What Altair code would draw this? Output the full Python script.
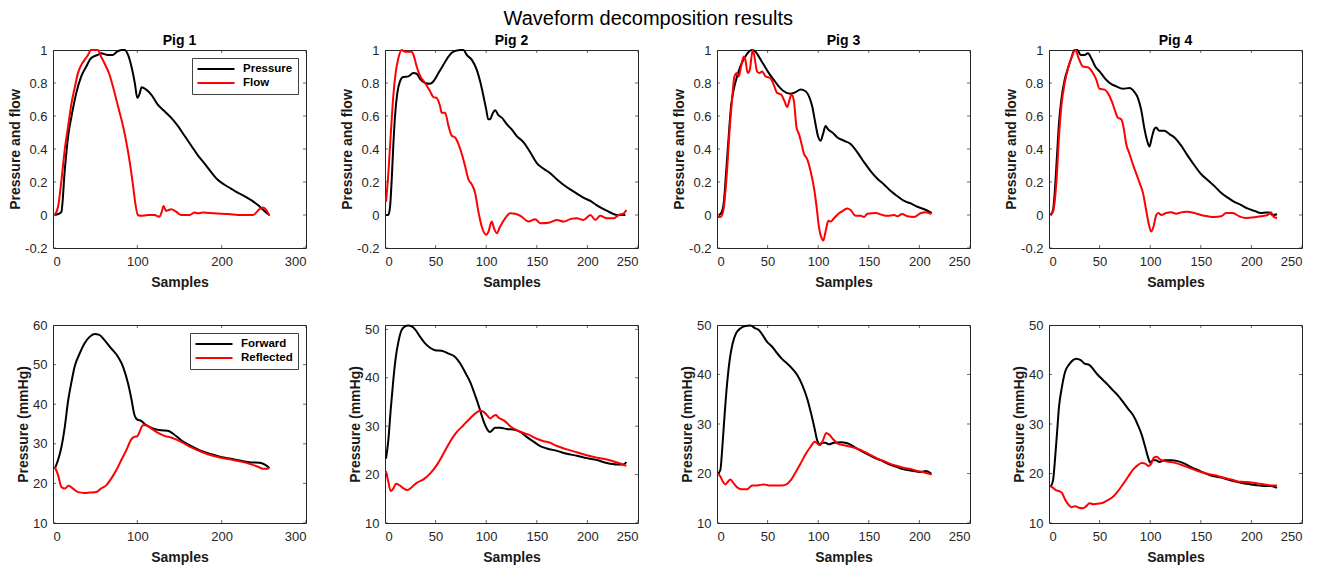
import altair as alt
import pandas as pd

# ---------------- data ----------------
TOP_NAMES = ["Pressure", "Flow"]
BOTTOM_NAMES = ["Forward", "Reflected"]
PIG_TITLES = ["Pig 1", "Pig 2", "Pig 3", "Pig 4"]

X_DOMAINS = [[0, 300], [0, 250], [0, 250], [0, 250]]
X_TICKS = [[0, 100, 200, 300], [0, 50, 100, 150, 200, 250],
           [0, 50, 100, 150, 200, 250], [0, 50, 100, 150, 200, 250]]
TOP_Y_DOMAIN = [-0.2, 1]
TOP_Y_TICKS = [-0.2, 0, 0.2, 0.4, 0.6, 0.8, 1]
BOTTOM_Y_DOMAINS = [[10, 60], [10, 50.9], [10, 50], [10, 50]]
BOTTOM_Y_TICKS = [[10, 20, 30, 40, 50, 60], [10, 20, 30, 40, 50],
                  [10, 20, 30, 40, 50], [10, 20, 30, 40, 50]]

# Pig 1 (top): normalised pressure and flow
p1_pressure_x = [2, 8, 10, 14, 18, 22, 27.6, 33.5, 39.5, 45,
                 53, 57, 65, 71, 76, 81, 85, 89, 93, 97,
                 100, 103, 105, 110.5, 116.5, 124, 132, 140, 148, 156,
                 164, 172, 180, 187.5, 195, 203, 211, 219, 227, 235,
                 243, 250.6, 256.6]
p1_pressure_y = [0, 0.01, 0.02, 0.275, 0.48, 0.6, 0.74, 0.84, 0.90, 0.95,
                 0.97, 0.98, 0.97, 0.97, 0.99, 1.0, 1.0, 0.97, 0.90, 0.80,
                 0.71, 0.74, 0.775, 0.76, 0.73, 0.67, 0.63, 0.59, 0.54, 0.48,
                 0.42, 0.36, 0.31, 0.26, 0.215, 0.185, 0.16, 0.135, 0.115, 0.09,
                 0.06, 0.025, 0.0]
p1_flow_x = [2, 6, 10, 14, 18, 22, 25.7, 29.6, 33.6, 37.5,
             41.5, 45, 49, 53, 57, 61, 67, 71, 77, 83,
             87, 91, 95, 97.5, 100.7, 104.6, 112.5, 120.4, 126, 129,
             131, 134, 137, 140, 146, 152, 162, 168, 172, 177.6,
             191.5, 211, 219, 237, 245, 249, 253, 256.6]
p1_flow_y = [0, 0.05, 0.21, 0.40, 0.54, 0.68, 0.77, 0.86, 0.91, 0.94,
             0.97, 1.0, 1.0, 1.0, 0.96, 0.92, 0.85, 0.78, 0.66, 0.54,
             0.44, 0.32, 0.175, 0.075, 0.0, -0.005, 0.0, 0.0, -0.01, 0.02,
             0.055, 0.025, 0.03, 0.035, 0.02, 0.0, 0.0, 0.015, 0.01, 0.015,
             0.01, 0.005, 0.0, 0.0, 0.035, 0.045, 0.03, -0.005]

# Pig 2 (top)
p2_pressure_x = [1, 3.3, 5, 6.6, 8.2, 9.9, 12.2, 14.8, 18, 23,
                 28, 31.3, 34.6, 39.6, 44.5, 47.8, 52.8, 57.7, 62.7, 67.6,
                 74.2, 77.5, 80.8, 85.8, 90.7, 94, 97.3, 100, 102, 104,
                 106, 108.8, 112, 115.4, 120.4, 125, 130, 137, 143.5, 150,
                 156.7, 163, 170, 176, 183, 189.6, 196, 203, 209, 216,
                 222.6, 229, 237.5]
p2_pressure_y = [0, 0, 0.05, 0.21, 0.42, 0.60, 0.74, 0.81, 0.836, 0.84,
                 0.86, 0.856, 0.825, 0.80, 0.795, 0.81, 0.86, 0.91, 0.96, 0.99,
                 1.0, 1.0, 0.97, 0.94, 0.88, 0.81, 0.72, 0.64, 0.58, 0.58,
                 0.61, 0.635, 0.605, 0.59, 0.55, 0.52, 0.48, 0.44, 0.38, 0.315,
                 0.28, 0.255, 0.215, 0.185, 0.155, 0.13, 0.105, 0.085, 0.06, 0.035,
                 0.015, 0.0, 0.0]
p2_flow_x = [1, 3.3, 5.6, 8.2, 10.5, 13.2, 16.5, 19.8, 23, 26.4,
             28.7, 31.3, 34.6, 39.6, 44.5, 47.8, 51, 54.4, 56, 59.4,
             62.7, 66, 69.3, 72.6, 75.9, 79, 82.5, 85.8, 89, 92.3,
             95.6, 100, 102, 105.5, 108, 110.5, 113.8, 118.7, 123.7, 128.6,
             135, 141.8, 148.4, 153.4, 163, 170, 176.4, 183, 189.6, 196,
             203, 207.8, 212.7, 219.3, 226, 231, 236, 238.5]
p2_flow_y = [0.08, 0.25, 0.48, 0.72, 0.86, 0.95, 1.0, 0.99, 0.99, 0.99,
             0.96, 0.90, 0.845, 0.80, 0.75, 0.715, 0.71, 0.66, 0.62, 0.62,
             0.54, 0.48, 0.47, 0.43, 0.37, 0.30, 0.215, 0.185, 0.135, 0.02,
             -0.07, -0.12, -0.105, -0.04, -0.085, -0.11, -0.07, -0.02, 0.01, 0.008,
             -0.01, -0.04, -0.025, -0.05, -0.045, -0.03, -0.04, -0.025, -0.02, -0.03,
             0.0, -0.03, -0.005, -0.02, -0.02, 0.0, 0.01, 0.03]

# Pig 3 (top)
p3_pressure_x = [1.7, 4, 6.6, 9.2, 11.6, 13.9, 16.5, 19.8, 23, 27,
                 31.4, 34.7, 38, 41.3, 46.2, 51.2, 56, 61, 66, 72.7,
                 77.6, 82.6, 87.5, 90.8, 94, 97.4, 99.7, 102.4, 104.7, 107.3,
                 109.6, 114, 119, 125.5, 132, 138.7, 145.3, 152, 158.5, 165,
                 171.7, 178, 185, 191.5, 198, 204.8, 209.7, 212]
p3_pressure_y = [0, 0.01, 0.07, 0.275, 0.48, 0.66, 0.76, 0.84, 0.90, 0.95,
                 0.99, 1.0, 0.99, 0.96, 0.91, 0.86, 0.82, 0.78, 0.75, 0.735,
                 0.745, 0.76, 0.75, 0.72, 0.66, 0.55, 0.48, 0.45, 0.49, 0.54,
                 0.52, 0.50, 0.47, 0.45, 0.43, 0.38, 0.32, 0.265, 0.22, 0.185,
                 0.145, 0.115, 0.085, 0.07, 0.05, 0.035, 0.02, 0.012]
p3_flow_x = [1, 4, 6.6, 10, 12.5, 14.9, 17.2, 19.8, 21.5, 23.8,
             26.4, 28, 30.4, 32.4, 35.3, 37, 39.6, 42, 44.6, 48,
             52.8, 56, 59.4, 63.4, 66.7, 69.4, 71.7, 73.6, 76, 78.6,
             81, 83.2, 86, 89, 92.5, 95.8, 98.4, 100.7, 103.4, 105,
             107.3, 110, 112.3, 115.6, 120.5, 125.5, 128.8, 132, 137, 142,
             145.3, 148.6, 157, 163.5, 168.4, 175, 178.3, 183, 188, 194.8,
             201.5, 206.4, 212]
p3_flow_y = [-0.012, -0.01, 0.04, 0.275, 0.52, 0.70, 0.84, 0.86, 0.84, 0.90,
             0.96, 0.94, 0.86, 0.88, 1.0, 0.96, 0.87, 0.86, 0.87, 0.84,
             0.83, 0.79, 0.74, 0.73, 0.69, 0.655, 0.70, 0.73, 0.69, 0.53,
             0.49, 0.44, 0.37, 0.34, 0.265, 0.165, 0.05, -0.07, -0.14, -0.155,
             -0.10, -0.035, -0.04, -0.02, 0.01, 0.03, 0.04, 0.03, -0.005, -0.005,
             -0.012, 0.008, 0.012, 0.0, -0.005, 0.0, -0.008, 0.006, -0.008, -0.012,
             0.012, 0.016, 0.006]

# Pig 4 (top)
p4_pressure_x = [1.6, 4, 5.6, 7.9, 9.9, 12.2, 15.5, 18.8, 22, 25.3,
                 28, 31.3, 35.2, 38.5, 41.8, 45.7, 50, 55, 60, 66.4,
                 73, 79.6, 84.5, 87.8, 91, 94.4, 97, 99.3, 101.6, 104,
                 105.9, 109, 114, 119, 124, 130.6, 137, 143.8, 150, 157,
                 163.5, 170, 176.6, 183, 190, 196, 203, 209.5, 214.5, 217.8,
                 221, 225.3]
p4_pressure_y = [0, 0.03, 0.13, 0.36, 0.56, 0.70, 0.82, 0.89, 0.95, 1.0,
                 1.0, 0.97, 0.97, 0.98, 0.95, 0.90, 0.87, 0.83, 0.80, 0.78,
                 0.765, 0.77, 0.745, 0.71, 0.64, 0.52, 0.45, 0.415, 0.47, 0.52,
                 0.53, 0.51, 0.51, 0.49, 0.47, 0.42, 0.36, 0.30, 0.25, 0.21,
                 0.175, 0.135, 0.105, 0.08, 0.06, 0.04, 0.025, 0.012, 0.015, 0.015,
                 0.0, 0.005]
p4_flow_x = [1.6, 4, 5.6, 7.9, 9.9, 12.2, 15.5, 18.8, 22, 26,
             29.3, 33.5, 38.5, 43.4, 46.7, 50, 55, 58, 62, 64.8,
             68, 71.4, 74, 76.3, 79.6, 83, 86, 89.5, 92.8, 96,
             98.4, 101, 103.3, 106, 108, 111, 115.8, 120.7, 125.7, 130.6,
             135.5, 143.8, 150, 157, 163.5, 170, 175, 181.6, 188, 194.7,
             203, 209.5, 216, 219.4, 222, 225.3]
p4_flow_y = [0, 0.02, 0.08, 0.255, 0.48, 0.66, 0.80, 0.89, 0.95, 1.0,
             0.95, 0.90, 0.895, 0.86, 0.82, 0.765, 0.76, 0.74, 0.69, 0.64,
             0.59, 0.58, 0.52, 0.43, 0.37, 0.305, 0.255, 0.195, 0.135, 0.03,
             -0.05, -0.10, -0.07, 0.0, 0.012, 0.0, 0.012, 0.016, 0.008, 0.016,
             0.02, 0.012, 0.0, -0.008, -0.012, -0.008, 0.012, 0.012, -0.008, -0.018,
             -0.014, -0.008, 0.0, 0.016, -0.012, -0.018]

# Pig 1 (bottom): forward / reflected pressure (mmHg)
p1_forward_x = [2, 6, 10, 14, 18, 22, 25.7, 31.6, 37.5, 43.4,
                49.3, 55, 61, 69, 77, 83, 89, 92.8, 96.7, 100,
                104.6, 110.5, 118.4, 128, 136, 142, 152, 164, 175.7, 187.5,
                199, 211, 223, 235, 245, 250.7, 256.6]
p1_forward_y = [23.7, 25.9, 29.2, 34.3, 41.0, 45.7, 49.5, 52.8, 55.4, 57.0,
                57.7, 57.5, 56.2, 54.1, 52.0, 49.5, 45.2, 41.5, 37.2, 36.1,
                35.8, 34.7, 33.9, 33.4, 33.3, 32.6, 30.9, 29.4, 28.2, 27.4,
                26.7, 26.2, 25.7, 25.3, 25.2, 24.8, 23.9]
p1_reflected_x = [2, 6, 10, 14, 18.5, 23.7, 29.6, 37.5, 43.4, 51.3,
                  57, 63, 69, 75, 81, 87, 92.8, 96.7, 100, 102.6,
                  106.6, 110.5, 116.4, 124, 132, 140, 152, 164, 175.7, 187.5,
                  199, 211, 223, 235, 243, 249, 252.6, 256.6]
p1_reflected_y = [24.2, 22.1, 19.1, 18.7, 19.4, 18.7, 17.8, 17.6, 17.7, 17.8,
                  18.7, 19.5, 21.2, 23.3, 25.9, 28.4, 31.1, 31.8, 31.9, 33.0,
                  34.7, 34.7, 33.9, 32.8, 32.0, 31.6, 30.5, 29.1, 28.0, 27.1,
                  26.5, 26.0, 25.5, 24.8, 24.2, 23.7, 23.7, 23.9]

# Pig 2 (bottom)
p2_forward_x = [1, 3.3, 5.6, 8.2, 10.5, 13.2, 16.5, 19.8, 23, 26.4,
                29.7, 34.6, 39.6, 44.5, 49.5, 56, 62.7, 69.3, 74.2, 79,
                84, 89, 94, 97.3, 100.6, 103.2, 106.2, 108.8, 113.8, 120.4,
                127, 133.6, 140, 146.8, 153.4, 160, 170, 179.7, 189.6, 199.5,
                209.4, 219.3, 229.2, 235.8, 238.5]
p2_forward_y = [23.3, 27.1, 33.3, 39.5, 44.0, 47.4, 49.9, 50.6, 50.8, 50.6,
                50.0, 48.5, 47.1, 46.2, 45.7, 45.6, 45.0, 44.3, 43.0, 41.2,
                39.2, 36.4, 33.3, 31.1, 29.5, 28.8, 29.2, 29.7, 29.7, 29.4,
                29.3, 28.8, 27.8, 26.8, 25.9, 25.4, 24.9, 24.3, 23.9, 23.4,
                23.0, 22.4, 22.1, 22.1, 22.6]
p2_reflected_x = [1, 3.3, 5.6, 8.2, 10.9, 14.2, 18, 22, 26.4, 31.3,
                  38, 44.5, 51, 57.7, 64.3, 71, 77.5, 84, 89, 94,
                  97.3, 100.6, 104, 107, 109.8, 112, 115.4, 118.7, 123.7, 130,
                  137, 143.5, 150, 156.7, 163, 170, 179.7, 189.6, 199.5, 209.4,
                  219.3, 229.2, 238.5]
p2_reflected_y = [20.7, 18.5, 16.6, 17.1, 18.1, 17.8, 17.2, 16.8, 17.4, 18.3,
                  19.0, 20.2, 21.9, 24.3, 26.8, 28.8, 30.2, 31.6, 32.6, 33.2,
                  33.0, 32.3, 31.6, 32.1, 32.3, 31.8, 31.4, 31.0, 30.0, 29.2,
                  28.6, 28.1, 27.4, 26.9, 26.6, 25.9, 25.2, 24.6, 24.0, 23.5,
                  23.1, 22.5, 21.8]

# Pig 3 (bottom)
p3_forward_x = [1, 3.3, 5.3, 7.6, 10, 12.5, 15.5, 18.8, 23, 28,
                33, 38, 41.3, 44.6, 49.5, 54.5, 59.4, 64.4, 69.4, 74.3,
                79.3, 84.2, 89, 93, 96.4, 99, 101.4, 104, 107.3, 110.6,
                115.6, 122, 128.8, 135.4, 142, 148.6, 155, 161.8, 168.4, 175,
                181.6, 188, 194.8, 201.5, 206.4, 212]
p3_forward_y = [20.0, 20.7, 25.4, 32.1, 38.2, 42.9, 46.3, 48.3, 49.3, 49.8,
                49.9, 49.3, 49.0, 48.1, 46.6, 45.6, 44.3, 43.1, 42.2, 41.2,
                39.9, 37.9, 35.2, 32.1, 29.1, 26.7, 25.9, 26.2, 26.2, 25.9,
                26.2, 26.3, 26.1, 25.4, 24.6, 23.9, 23.2, 22.7, 22.0, 21.5,
                21.0, 20.7, 20.5, 20.3, 20.5, 19.9]
p3_reflected_x = [1, 3.3, 6, 8.3, 11, 13.2, 16.5, 20.5, 24.8, 29.7,
                  34.7, 39.6, 46.2, 51.2, 57.8, 64.4, 68.7, 72.7, 77.6, 82.6,
                  87.5, 92.5, 96.4, 99, 101.7, 104.7, 108, 110.6, 114, 119,
                  125.5, 132, 138.7, 145.3, 152, 158.5, 165, 171.7, 178.3, 185,
                  191.5, 198, 204.8, 212]
p3_reflected_y = [20.0, 19.4, 18.3, 17.8, 18.4, 18.8, 18.0, 17.1, 16.8, 16.8,
                  17.6, 17.6, 17.8, 17.6, 17.6, 17.6, 17.8, 18.6, 20.2, 22.0,
                  23.9, 25.4, 26.4, 26.1, 25.7, 26.7, 28.2, 27.9, 27.1, 26.1,
                  25.7, 25.4, 25.0, 24.4, 23.7, 23.0, 22.5, 21.9, 21.5, 21.1,
                  20.9, 20.5, 20.2, 19.8]

# Pig 4 (bottom)
p4_forward_x = [1.6, 4, 5.6, 7.9, 9.9, 12.8, 16, 19.4, 23.7, 27,
                31.3, 35.2, 40, 44.4, 48.4, 53.3, 58.2, 63.2, 68, 73,
                78, 83, 87.8, 91.8, 95, 97.7, 100, 102.6, 105.9, 109,
                114, 120.7, 127.3, 134, 140.5, 147, 153.6, 160, 166.8, 173.4,
                180, 186.5, 193, 199.7, 206, 212.8, 219.4, 225.3]
p4_forward_y = [17.3, 18.6, 22.0, 28.1, 33.5, 37.5, 40.6, 41.9, 42.9, 43.2,
                42.9, 42.2, 41.9, 40.9, 39.9, 38.9, 37.9, 36.8, 35.8, 34.5,
                33.1, 31.8, 29.8, 27.7, 25.4, 23.4, 22.2, 22.7, 22.7, 22.3,
                22.7, 22.7, 22.5, 22.0, 21.3, 20.7, 20.1, 19.6, 19.3, 19.0,
                18.6, 18.3, 18.0, 17.8, 17.6, 17.5, 17.5, 17.1]
p4_reflected_x = [1.6, 4, 7.2, 10.5, 12.8, 15.5, 18.8, 22, 26, 29.3,
                  33.5, 36.8, 40, 44.4, 48.4, 53.3, 58.2, 63.2, 68, 73,
                  78, 83, 87.8, 91.8, 95, 98.4, 101, 103.6, 106.6, 109.9,
                  114, 120.7, 127.3, 134, 140.5, 147, 153.6, 160, 166.8, 173.4,
                  180, 186.5, 193, 199.7, 206, 212.8, 219.4, 225.3]
p4_reflected_y = [17.4, 17.1, 16.6, 16.4, 16.1, 14.9, 13.8, 13.2, 13.4, 13.1,
                  13.0, 13.4, 14.0, 13.8, 13.9, 14.1, 14.6, 15.3, 16.4, 17.8,
                  19.3, 20.8, 21.7, 22.1, 22.0, 21.5, 22.0, 23.2, 23.4, 22.8,
                  22.5, 22.3, 22.0, 21.5, 21.0, 20.5, 20.1, 19.8, 19.5, 19.1,
                  18.8, 18.4, 18.3, 18.2, 18.0, 17.8, 17.6, 17.6]

TOP_SERIES = [
    [(p1_pressure_x, p1_pressure_y), (p1_flow_x, p1_flow_y)],
    [(p2_pressure_x, p2_pressure_y), (p2_flow_x, p2_flow_y)],
    [(p3_pressure_x, p3_pressure_y), (p3_flow_x, p3_flow_y)],
    [(p4_pressure_x, p4_pressure_y), (p4_flow_x, p4_flow_y)],
]
BOTTOM_SERIES = [
    [(p1_forward_x, p1_forward_y), (p1_reflected_x, p1_reflected_y)],
    [(p2_forward_x, p2_forward_y), (p2_reflected_x, p2_reflected_y)],
    [(p3_forward_x, p3_forward_y), (p3_reflected_x, p3_reflected_y)],
    [(p4_forward_x, p4_forward_y), (p4_reflected_x, p4_reflected_y)],
]

# ---------------- styling ----------------
FONT = "Liberation Sans"
AXIS_GREY = "#262626"
LINE_COLORS = ["#000000", "#ff0000"]
W, H = 253, 198
LABEL_EXPR = "datum.value < 0 ? '-' + format(-datum.value, '~g') : format(datum.value, '~g')"


def make_panel(series, names, xdom, ydom, xticks, yticks, title, ytitle, show_legend):
    rows = []
    for name, (xs, ys) in zip(names, series):
        for xv, yv in zip(xs, ys):
            rows.append({"x": xv, "y": yv, "series": name})
    df = pd.DataFrame(rows)

    xscale = alt.Scale(domain=xdom, nice=False, zero=False)
    yscale = alt.Scale(domain=ydom, nice=False, zero=False)
    xaxis = alt.Axis(values=xticks, title="Samples", grid=False, ticks=False, domain=False,
                     labelPadding=7, labelFontSize=13, labelColor=AXIS_GREY, labelExpr=LABEL_EXPR,
                     titleFontSize=14, titleFontWeight="bold", titleColor="#1a1a1a",
                     titlePadding=7, labelFont=FONT, titleFont=FONT)
    yaxis = alt.Axis(values=yticks, title=ytitle, grid=False, ticks=False, domain=False,
                     labelPadding=6, labelFontSize=13, labelColor=AXIS_GREY, labelExpr=LABEL_EXPR,
                     titleFontSize=14, titleFontWeight="bold", titleColor="#1a1a1a",
                     titlePadding=2, labelFont=FONT, titleFont=FONT)
    if show_legend:
        legend = alt.Legend(title=None, orient="top-right", offset=8,
                            symbolType="M-3.7,0H3.7", symbolSize=100, symbolStrokeWidth=2,
                            symbolOffset=13, labelOffset=21,
                            labelFontSize=11.5, labelFontWeight="bold", labelColor="#000000",
                            labelFont=FONT, strokeColor="#404040", fillColor="#ffffff",
                            padding=5, rowPadding=2, cornerRadius=0)
    else:
        legend = None
    color = alt.Color("series:N", scale=alt.Scale(domain=names, range=LINE_COLORS), legend=legend)

    layers = []
    for name in names:
        layers.append(
            alt.Chart(df).transform_filter(alt.datum.series == name)
            .mark_line(strokeWidth=2, interpolate="monotone")
            .encode(x=alt.X("x:Q", scale=xscale, axis=xaxis),
                    y=alt.Y("y:Q", scale=yscale, axis=yaxis),
                    color=color)
        )

    # inward-pointing tick marks on all four sides (MATLAB style)
    nx, ny = len(xticks), len(yticks)
    xt = pd.DataFrame({"x": list(xticks) * 2, "y": [ydom[0]] * nx + [ydom[1]] * nx})
    yt = pd.DataFrame({"x": [xdom[0]] * ny + [xdom[1]] * ny, "y": list(yticks) * 2})
    layers.append(
        alt.Chart(xt).mark_tick(orient="vertical", size=6, thickness=1, color=AXIS_GREY, clip=True)
        .encode(x=alt.X("x:Q", scale=xscale, axis=xaxis), y=alt.Y("y:Q", scale=yscale, axis=yaxis))
    )
    layers.append(
        alt.Chart(yt).mark_tick(orient="horizontal", size=6, thickness=1, color=AXIS_GREY, clip=True)
        .encode(x=alt.X("x:Q", scale=xscale, axis=xaxis), y=alt.Y("y:Q", scale=yscale, axis=yaxis))
    )

    props = dict(width=W, height=H)
    if title:
        props["title"] = alt.TitleParams(title, fontSize=14, fontWeight="bold", offset=-4,
                                         frame="group", color="#000000", font=FONT)
    return alt.layer(*layers).properties(**props)


top_panels = [
    make_panel(TOP_SERIES[i], TOP_NAMES, X_DOMAINS[i], TOP_Y_DOMAIN, X_TICKS[i], TOP_Y_TICKS,
               PIG_TITLES[i], "Pressure and flow", i == 0)
    for i in range(4)
]
bottom_panels = [
    make_panel(BOTTOM_SERIES[i], BOTTOM_NAMES, X_DOMAINS[i], BOTTOM_Y_DOMAINS[i], X_TICKS[i],
               BOTTOM_Y_TICKS[i], None, "Pressure (mmHg)", i == 0)
    for i in range(4)
]

chart = alt.concat(
    *(top_panels + bottom_panels), columns=4, spacing={"row": 77, "column": 79}, bounds="flush"
).resolve_scale(
    x="independent", y="independent", color="independent"
).resolve_axis(
    x="independent", y="independent"
).resolve_legend(
    color="independent"
).properties(
    title=alt.TitleParams("Waveform decomposition results", fontSize=20, fontWeight="normal",
                          anchor="middle", dx=-7, offset=5, color="#000000", font=FONT),
    padding=0,
).configure(font=FONT).configure_view(stroke=AXIS_GREY, strokeWidth=1)

chart.save("out.html", embed_options={"renderer": "svg", "actions": False})
